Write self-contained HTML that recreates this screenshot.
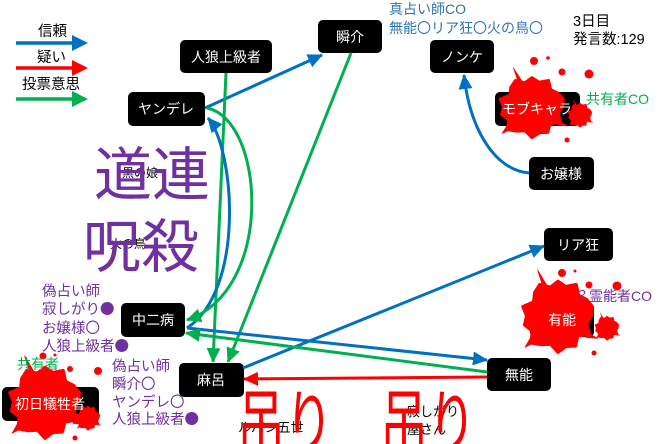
<!DOCTYPE html>
<html><head><meta charset="utf-8"><style>
html,body{margin:0;padding:0;background:#fff;}
svg{display:block;}
text{font-family:"Liberation Sans","Noto Sans CJK JP",sans-serif;}
</style></head><body>
<svg width="660" height="444" viewBox="0 0 660 444" xmlns="http://www.w3.org/2000/svg">
<defs>
<marker id="mb" markerUnits="userSpaceOnUse" markerWidth="16" markerHeight="14" refX="14" refY="7" orient="auto"><path d="M0,0 L15,7 L0,14 z" fill="#0070C0"/></marker>
<marker id="mr" markerUnits="userSpaceOnUse" markerWidth="16" markerHeight="14" refX="14" refY="7" orient="auto"><path d="M0,0 L15,7 L0,14 z" fill="#FF0000"/></marker>
<marker id="mg" markerUnits="userSpaceOnUse" markerWidth="16" markerHeight="14" refX="14" refY="7" orient="auto"><path d="M0,0 L15,7 L0,14 z" fill="#00B050"/></marker>
<g id="splat" fill="#FF0000" stroke="#FF0000" stroke-width="0.1" stroke-linejoin="round">
<polygon points="1,0 0.869,0.233 0.953,0.55 0.601,0.601 0.525,0.909 0.246,0.918 0,1.1 -0.228,0.85 -0.5,0.866 -0.813,0.813 -0.779,0.45 -1.014,0.272 -0.95,0 -1.063,-0.285 -0.736,-0.425 -0.707,-0.707 -0.55,-0.953 -0.233,-0.869 0,-1.05 0.238,-0.889 0.55,-0.953 0.622,-0.622 0.866,-0.5 1.043,-0.28"/>
<polygon points="-0.45,-0.85 -0.62,-1.4 -0.32,-0.9" stroke-width="0.02"/>
<polygon points="0.9,0.5 1.2,0.68 0.85,0.65" stroke-width="0.02"/>
<polygon points="-0.8,0.6 -1.0,0.95 -0.6,0.75" stroke-width="0.02"/>
</g>
</defs>
<rect x="0" y="0" width="660" height="444" fill="#fff"/>

<!-- Legend -->
<text x="38" y="36" font-size="14.5" fill="#000">信頼</text>
<line x1="16" y1="43" x2="74" y2="43" stroke="#0070C0" stroke-width="3.5"/>
<polygon points="72,35 88,43 72,51" fill="#0070C0"/>
<text x="37" y="62" font-size="14.5" fill="#000">疑い</text>
<line x1="16" y1="68" x2="74" y2="68" stroke="#FF0000" stroke-width="3.5"/>
<polygon points="72,60 88,68 72,76" fill="#FF0000"/>
<text x="22" y="89" font-size="14.5" fill="#000">投票意思</text>
<line x1="16" y1="99" x2="74" y2="99" stroke="#00B050" stroke-width="3.5"/>
<polygon points="72,91 88,99 72,107" fill="#00B050"/>

<!-- small black labels (under big text) -->
<text x="122" y="177" font-size="12" fill="#000">黒の娘</text>
<text x="110" y="248" font-size="12" fill="#000">火の鳥</text>
<text x="238" y="432" font-size="13" fill="#000">ルパン五世</text>
<text x="407" y="416" font-size="13" fill="#000">寂しがり</text>
<text x="407" y="434" font-size="13" fill="#000">屋さん</text>

<!-- big texts -->
<text x="94" y="195" font-size="58" fill="#7030A0">道連</text>
<text x="83" y="267" font-size="58" fill="#7030A0">呪殺</text>
<text transform="translate(237,449) scale(1,1.5)" font-size="48" fill="#FF0000">吊り</text>
<text transform="translate(380,449) scale(1,1.5)" font-size="48" fill="#FF0000">吊り</text>

<!-- Nodes boxes -->
<rect x="180" y="40" width="92" height="33" rx="5" fill="#000"/>
<rect x="128" y="92" width="77" height="34" rx="5" fill="#000"/>
<rect x="318" y="20" width="64" height="33" rx="5" fill="#000"/>
<rect x="430" y="40" width="64" height="33" rx="5" fill="#000"/>
<rect x="495" y="92" width="85" height="34" rx="5" fill="#000"/>
<rect x="529" y="157" width="65" height="33" rx="5" fill="#000"/>
<rect x="544" y="228" width="69" height="33" rx="5" fill="#000"/>
<rect x="530" y="303" width="64" height="34" rx="5" fill="#000"/>
<rect x="487" y="358" width="64" height="33" rx="5" fill="#000"/>
<rect x="121" y="303" width="64" height="34" rx="5" fill="#000"/>
<rect x="179" y="363" width="65" height="34" rx="5" fill="#000"/>
<rect x="2" y="387" width="97" height="34" rx="5" fill="#000"/>

<!-- connectors -->
<g fill="none" stroke-width="3">
<line x1="205" y1="108" x2="322" y2="55" stroke="#0070C0" marker-end="url(#mb)"/>
<line x1="226" y1="73" x2="213" y2="362" stroke="#00B050" marker-end="url(#mg)"/>
<line x1="351" y1="53" x2="228" y2="362" stroke="#00B050" marker-end="url(#mg)"/>
<path d="M187,328 C245,290 235,150 208,118" stroke="#0070C0" marker-end="url(#mb)"/>
<path d="M207,108 C265,120 275,290 187,320" stroke="#00B050" marker-end="url(#mg)"/>
<line x1="243" y1="368" x2="544" y2="246" stroke="#0070C0" marker-end="url(#mb)"/>
<line x1="187" y1="328" x2="487" y2="360" stroke="#0070C0" marker-end="url(#mb)"/>
<line x1="487" y1="372" x2="186" y2="333" stroke="#00B050" marker-end="url(#mg)"/>
<line x1="487" y1="377" x2="244" y2="379" stroke="#FF0000" marker-end="url(#mr)"/>
<path d="M529,173 C495,170 470,130 464,75" stroke="#0070C0" marker-end="url(#mb)"/>
</g>

<!-- blood splats -->
<use href="#splat" transform="translate(532,107) scale(30,28)"/>
<use href="#splat" transform="translate(580,115) scale(11)"/>
<g fill="#FF0000">
<circle cx="534" cy="61" r="4"/><circle cx="548" cy="58" r="1.8"/><circle cx="562" cy="72" r="3.5"/><circle cx="589" cy="74" r="4.5"/><circle cx="567" cy="140" r="2.5"/>
</g>
<use href="#splat" transform="translate(558,316) scale(33)"/>
<use href="#splat" transform="translate(607,328) scale(11)"/>
<g fill="#FF0000">
<circle cx="562" cy="273" r="4"/><circle cx="575" cy="271" r="1.5"/><circle cx="589" cy="285" r="3.5"/><circle cx="617" cy="286" r="4.5"/><circle cx="594" cy="353" r="2.5"/>
</g>
<use href="#splat" transform="translate(45,402) scale(33)"/>
<use href="#splat" transform="translate(88,418) scale(11)"/>
<g fill="#FF0000">
<circle cx="43" cy="356" r="3.5"/><circle cx="55" cy="355" r="1.5"/><circle cx="70" cy="369" r="3"/><circle cx="98" cy="371" r="4"/><circle cx="75" cy="438" r="2.5"/>
</g>

<!-- node labels -->
<g fill="#fff" font-size="14" text-anchor="middle">
<text x="226" y="62">人狼上級者</text>
<text x="166" y="114">ヤンデレ</text>
<text x="350" y="42">瞬介</text>
<text x="462" y="62">ノンケ</text>
<text x="537" y="114">モブキャラ</text>
<text x="561" y="179">お嬢様</text>
<text x="578" y="250">リア狂</text>
<text x="562" y="325">有能</text>
<text x="519" y="380">無能</text>
<text x="153" y="325">中二病</text>
<text x="211" y="385">麻呂</text>
<text x="50" y="409">初日犠牲者</text>
</g>

<!-- annotations -->
<text x="389" y="14" font-size="14" fill="#2E75B6">真占い師CO</text>
<text x="389" y="33" font-size="14" fill="#2E75B6">無能〇リア狂〇火の鳥〇</text>
<text x="573" y="26" font-size="14.5" fill="#000">3日目</text>
<text x="573" y="44" font-size="14.5" fill="#000">発言数:129</text>
<text x="586" y="104" font-size="14" fill="#00B050">共有者CO</text>
<text x="575" y="301" font-size="14" fill="#7030A0">？霊能者CO</text>

<g font-size="14.5" fill="#7030A0">
<text x="42" y="296">偽占い師</text>
<text x="42" y="314">寂しがり<tspan font-family="Noto Sans CJK JP, sans-serif">●</tspan></text>
<text x="42" y="333">お嬢様〇</text>
<text x="42" y="351">人狼上級者<tspan font-family="Noto Sans CJK JP, sans-serif">●</tspan></text>
<text x="112" y="371">偽占い師</text>
<text x="112" y="389">瞬介〇</text>
<text x="112" y="407">ヤンデレ〇</text>
<text x="112" y="424">人狼上級者<tspan font-family="Noto Sans CJK JP, sans-serif">●</tspan></text>
</g>
<text x="17" y="369" font-size="14" fill="#00B050">共有者</text>
</svg>
</body></html>
